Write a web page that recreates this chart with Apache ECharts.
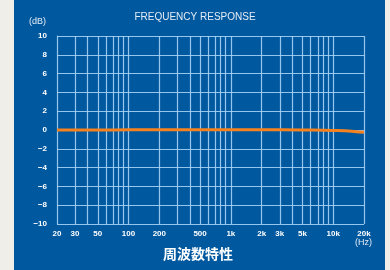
<!DOCTYPE html>
<html>
<head>
<meta charset="utf-8">
<script src="https://cdn.jsdelivr.net/npm/echarts@6/dist/echarts.min.js"></script>
<style>
  html, body { margin: 0; padding: 0; background: #efeee9; }
  #main { width: 390px; height: 270px; }
</style>
</head>
<body>
<div id="main"></div>
<script>
// frequency response data (Hz, dB)
var freqs = [20, 50, 100, 200, 500, 1000, 2000, 5000, 8000, 10000, 13000, 16000, 20000];
var levels = [0, 0, 0.02, 0.02, 0.02, 0.02, 0.02, 0, -0.02, -0.04, -0.08, -0.15, -0.25];

// vertical grid frequencies and tick labels
var gridFreqs = [20, 30, 40, 50, 60, 70, 80, 90, 100,
  200, 300, 400, 500, 600, 700, 800, 900, 1000,
  2000, 3000, 4000, 5000, 6000, 7000, 8000, 9000, 10000, 20000];
var labelFreqs = [20, 30, 50, 100, 200, 500, 1000, 2000, 3000, 5000, 10000, 20000];
var labelTexts = ['20', '30', '50', '100', '200', '500', '1k', '2k', '3k', '5k', '10k', '20k'];

var gridColor = 'rgba(165,212,246,0.9)';

var lineData = freqs.map(function (f, i) { return [Math.log10(f), levels[i]]; });
var labelVals = labelFreqs.map(function (f) { return Math.log10(f); });

var myChart = echarts.init(document.getElementById('main'));

var option = {
    animation: false,
    graphic: [
        { type: 'rect', shape: { x: 14, y: 0, width: 371, height: 270 }, style: { fill: '#00589f' }, z: -10 },
        { type: 'text', left: 'center', top: 12, style: { text: 'FREQUENCY RESPONSE', fill: '#e4ecf6', font: '10px "Liberation Sans", Arial, sans-serif' } },
        { type: 'text', x: 29, y: 17, style: { text: '(dB)', fill: '#e4ecf6', font: '9px "Liberation Sans", Arial, sans-serif' } },
        { type: 'text', x: 355, y: 238, style: { text: '(Hz)', fill: '#e4ecf6', font: '9px "Liberation Sans", Arial, sans-serif' } },
        { type: 'text', x: 163, y: 247, style: { text: '周波数特性', fill: '#ffffff', font: 'bold 14px "Noto Sans CJK JP", sans-serif' } }
    ],
    grid: { left: 57, right: 26, top: 36, bottom: 46 },
    xAxis: {
        type: 'value',
        min: Math.log10(20),
        max: Math.log10(20000),
        axisLine: { show: false },
        axisTick: { show: false },
        splitLine: { show: false },
        axisLabel: {
            customValues: labelVals,
            color: '#ffffff',
            fontSize: 8,
            fontWeight: 'bold',
            margin: 6,
            formatter: function (v) {
                var f = Math.round(Math.pow(10, v));
                var i = labelFreqs.indexOf(f);
                return i >= 0 ? labelTexts[i] : '';
            }
        }
    },
    yAxis: {
        type: 'value',
        min: -10,
        max: 10,
        interval: 2,
        axisLine: { show: true, lineStyle: { color: gridColor, width: 1.2 } },
        axisTick: { show: false },
        splitLine: { lineStyle: { color: gridColor, width: 1.2 } },
        axisLabel: {
            color: '#ffffff',
            fontSize: 8,
            fontWeight: 'bold',
            margin: 10,
            formatter: function (v) { return v < 0 ? '\u2212' + (-v) : String(v); }
        }
    },
    series: [
        {
            type: 'line',
            data: [],
            silent: true,
            markLine: {
                symbol: 'none',
                silent: true,
                label: { show: false },
                lineStyle: { color: gridColor, width: 1.2, type: 'solid' },
                data: gridFreqs.map(function (f) { return { xAxis: Math.log10(f) }; })
            }
        },
        {
            type: 'line',
            data: lineData,
            smooth: true,
            showSymbol: false,
            lineStyle: { color: '#f5821f', width: 3 },
            z: 5
        }
    ]
};

myChart.setOption(option);
</script>
</body>
</html>
